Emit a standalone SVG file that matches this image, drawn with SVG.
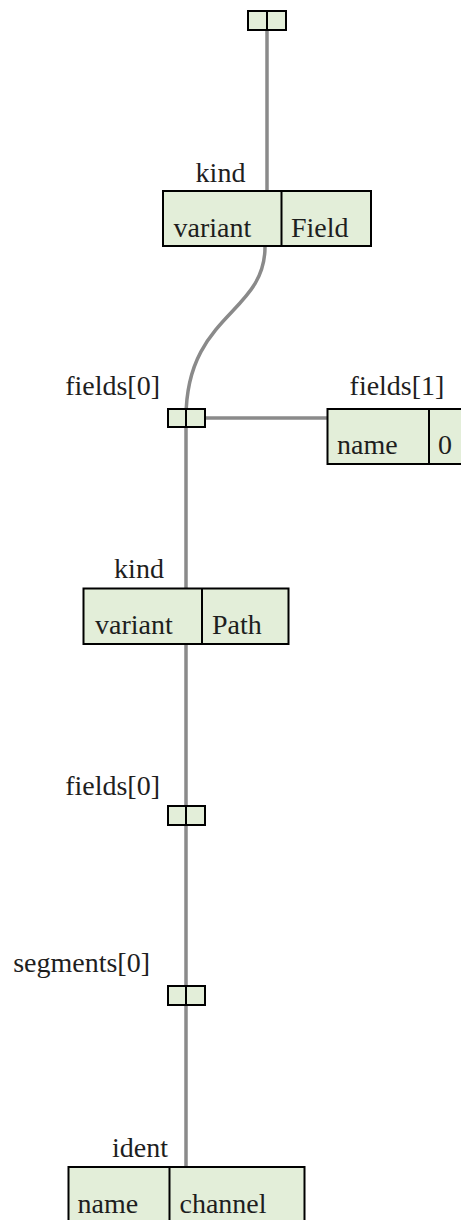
<svg xmlns="http://www.w3.org/2000/svg" width="461" height="1220" viewBox="0 0 461 1220">
  <style>
    .cell { fill: #e3eed9; stroke: #000; stroke-width: 2; }
    .div { stroke: #000; stroke-width: 2; }
    .edge { fill: none; stroke: #8a8a8a; stroke-width: 3.5; }
    text { font-family: 'Liberation Serif', serif; font-size: 28px; fill: #1e1e1e; }
  </style>
  <rect width="461" height="1220" fill="#fff"/>

  <!-- connectors -->
  <g id="edges">
    <path class="edge" d="M267,29 L267,191"/>
    <path class="edge" d="M265,247 C265,314 186,314 186,418"/>
    <path class="edge" d="M205,418 L327,418"/>
    <path class="edge" d="M186,418 L186,588"/>
    <path class="edge" d="M186,644 L186,1167"/>
  </g>

  <!-- root -->
  <g id="root">
    <rect class="cell" x="248" y="11" width="38" height="19"/>
    <line class="div" x1="267" y1="11" x2="267" y2="30"/>
  </g>

  <!-- kind: Field -->
  <g id="kind-field">
    <text x="220.5" y="181.5" text-anchor="middle">kind</text>
    <rect class="cell" x="163" y="191" width="208" height="55"/>
    <line class="div" x1="281.5" y1="191" x2="281.5" y2="246"/>
    <text x="173.5" y="236.5">variant</text>
    <text x="291" y="236.5">Field</text>
  </g>

  <!-- fields[0] -->
  <g id="fields0-a">
    <text x="160" y="395" text-anchor="end">fields[0]</text>
    <rect class="cell" x="168" y="409" width="37" height="18"/>
    <line class="div" x1="186" y1="409" x2="186" y2="427"/>
  </g>

  <!-- fields[1] -->
  <g id="fields1">
    <text x="397" y="395" text-anchor="middle">fields[1]</text>
    <rect class="cell" x="327.5" y="409" width="150" height="55"/>
    <line class="div" x1="429" y1="409" x2="429" y2="464"/>
    <text x="337" y="454">name</text>
    <text x="438" y="454">0</text>
  </g>

  <!-- kind: Path -->
  <g id="kind-path">
    <text x="139" y="578" text-anchor="middle">kind</text>
    <rect class="cell" x="83.5" y="588.5" width="205" height="55.5"/>
    <line class="div" x1="202" y1="588.5" x2="202" y2="644"/>
    <text x="95" y="634">variant</text>
    <text x="212" y="634">Path</text>
  </g>

  <!-- fields[0] -->
  <g id="fields0-b">
    <text x="160" y="795" text-anchor="end">fields[0]</text>
    <rect class="cell" x="168" y="806" width="37" height="19"/>
    <line class="div" x1="186" y1="806" x2="186" y2="825"/>
  </g>

  <!-- segments[0] -->
  <g id="segments0">
    <text x="150" y="972" text-anchor="end">segments[0]</text>
    <rect class="cell" x="168" y="986" width="37" height="19"/>
    <line class="div" x1="186" y1="986" x2="186" y2="1005"/>
  </g>

  <!-- ident -->
  <g id="ident">
    <text x="140" y="1157" text-anchor="middle">ident</text>
    <rect class="cell" x="68.5" y="1167" width="236" height="70"/>
    <line class="div" x1="169.5" y1="1167" x2="169.5" y2="1237"/>
    <text x="77.5" y="1213">name</text>
    <text x="179.5" y="1213">channel</text>
  </g>
</svg>
